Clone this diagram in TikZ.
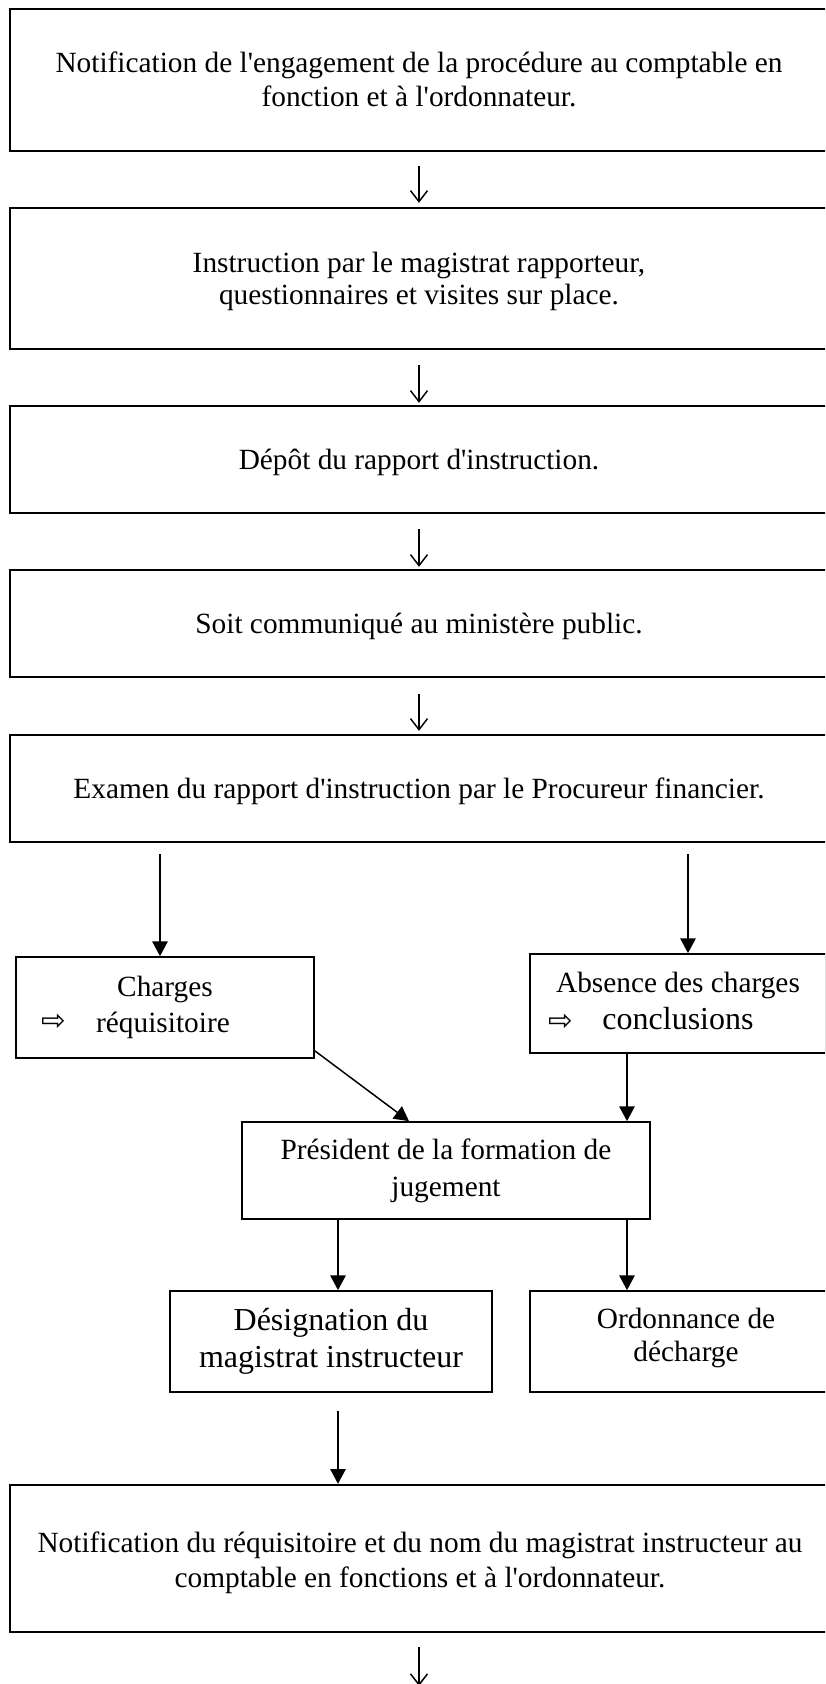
\documentclass[tikz,border=0pt]{standalone}
\usepackage{fontspec}
\setmainfont{Liberation Serif}[Ligatures=TeXOff]
\newfontfamily\symfont{DejaVu Sans}
\usetikzlibrary{arrows.meta}
\begin{document}
\begin{tikzpicture}[x=0.75pt,y=-0.75pt,
  bigbox/.style={draw, line width=1.8pt, inner sep=0pt},
  smallbox/.style={draw, line width=1.3pt, inner sep=0pt},
  txt/.style={anchor=base, inner sep=0pt, font=\fontsize{22pt}{24.75pt}\selectfont},
  bigtxt/.style={anchor=base, inner sep=0pt, font=\fontsize{24pt}{27pt}\selectfont},
  sym/.style={inner sep=0pt, font=\symfont\fontsize{22pt}{22pt}\selectfont},
  flow/.style={line width=1.1pt, -{Straight Barb[length=8.25pt,width=12.75pt,line width=1.1pt]}},
  link/.style={line width=1.1pt, -{Triangle[length=11pt,width=11.5pt]}},
]
\useasboundingbox (0,0) rectangle (825,1684);
\begin{scope}
\clip (0,0) rectangle (825,1684);
% boxes
\node[bigbox, minimum width=613.5pt, minimum height=106.5pt] (b1) at (419,80) {};
\node[bigbox, minimum width=613.5pt, minimum height=105.75pt] (b2) at (419,278.5) {};
\node[bigbox, minimum width=613.5pt, minimum height=80.25pt] (b3) at (419,459.5) {};
\node[bigbox, minimum width=613.5pt, minimum height=80.25pt] (b4) at (419,623.5) {};
\node[bigbox, minimum width=613.5pt, minimum height=80.25pt] (b5) at (419,788.5) {};
\node[smallbox, minimum width=223.5pt, minimum height=75.75pt] (ch) at (165,1007.5) {};
\node[smallbox, minimum width=222pt, minimum height=74.25pt] (ab) at (678,1003.5) {};
\node[smallbox, minimum width=306pt, minimum height=72.75pt] (pr) at (446,1170.5) {};
\node[smallbox, minimum width=241.5pt, minimum height=75.75pt] (de) at (331,1341.5) {};
\node[smallbox, minimum width=229.5pt, minimum height=75.75pt] (ord) at (683,1341.5) {};
\node[bigbox, minimum width=613.5pt, minimum height=110.25pt] (b6) at (419,1558.5) {};
% texts
\node[txt] (t1a) at (419,72.7) {Notification de l'engagement de la procédure au comptable en};
\node[txt] (t1b) at (419,106) {fonction et à l'ordonnateur.};
\node[txt] (t2a) at (419,272) {Instruction par le magistrat rapporteur,};
\node[txt] (t2b) at (419,304) {questionnaires et visites sur place.};
\node[txt] (t3) at (419,469) {Dépôt du rapport d'instruction.};
\node[txt] (t4) at (419,633) {Soit communiqué au ministère public.};
\node[txt] (t5) at (419,798) {Examen du rapport d'instruction par le Procureur financier.};
\node[txt] (tca) at (165,996) {Charges};
\node[txt] (tcb) at (163,1032.7) {réquisitoire};
\node[sym] (sca) at (54,1022) {⇨};
\node[txt] (taa) at (678,992) {Absence des charges};
\node[bigtxt] (tab) at (678,1029) {conclusions};
\node[sym] (sab) at (561,1022.5) {⇨};
\node[txt] (tpa) at (446,1159.5) {Président de la formation de};
\node[txt] (tpb) at (446,1196) {jugement};
\node[bigtxt] (tda) at (331,1330) {Désignation du};
\node[bigtxt] (tdb) at (331,1367) {magistrat instructeur};
\node[txt] (toa) at (686,1328) {Ordonnance de};
\node[txt] (tob) at (686,1361) {décharge};
\node[txt] (t6a) at (420,1552) {Notification du réquisitoire et du nom du magistrat instructeur au};
\node[txt] (t6b) at (420,1587) {comptable en fonctions et à l'ordonnateur.};
% x positions
\coordinate (xm) at (419,0);
\coordinate (xl) at (160,0);
\coordinate (xr) at (688,0);
\coordinate (xd) at (338,0);
\coordinate (xo) at (627,0);
\coordinate (xp) at (409,0);
\coordinate (fin) at (419,1686);
% connectors
\draw[flow, shorten <=10.5pt, shorten >=3pt] (b1.south -| xm) -- (b2.north -| xm);
\draw[flow, shorten <=11.25pt, shorten >=1.5pt] (b2.south -| xm) -- (b3.north -| xm);
\draw[flow, shorten <=11.25pt, shorten >=1.5pt] (b3.south -| xm) -- (b4.north -| xm);
\draw[flow, shorten <=12pt, shorten >=2.25pt] (b4.south -| xm) -- (b5.north -| xm);
\draw[link, shorten <=8.25pt] (b5.south -| xl) -- (ch.north -| xl);
\draw[link, shorten <=8.25pt] (b5.south -| xr) -- (ab.north -| xr);
\draw[link] ([yshift=6pt]ch.south east) -- (pr.north -| xp);
\draw[link] (ab.south -| xo) -- (pr.north -| xo);
\draw[link] (pr.south -| xd) -- (de.north -| xd);
\draw[link] (pr.south -| xo) -- (ord.north -| xo);
\draw[link, shorten <=13.5pt] (de.south -| xd) -- (b6.north -| xd);
\draw[flow, shorten <=10.5pt] (b6.south -| xm) -- (fin);
\end{scope}
\end{tikzpicture}
\end{document}
